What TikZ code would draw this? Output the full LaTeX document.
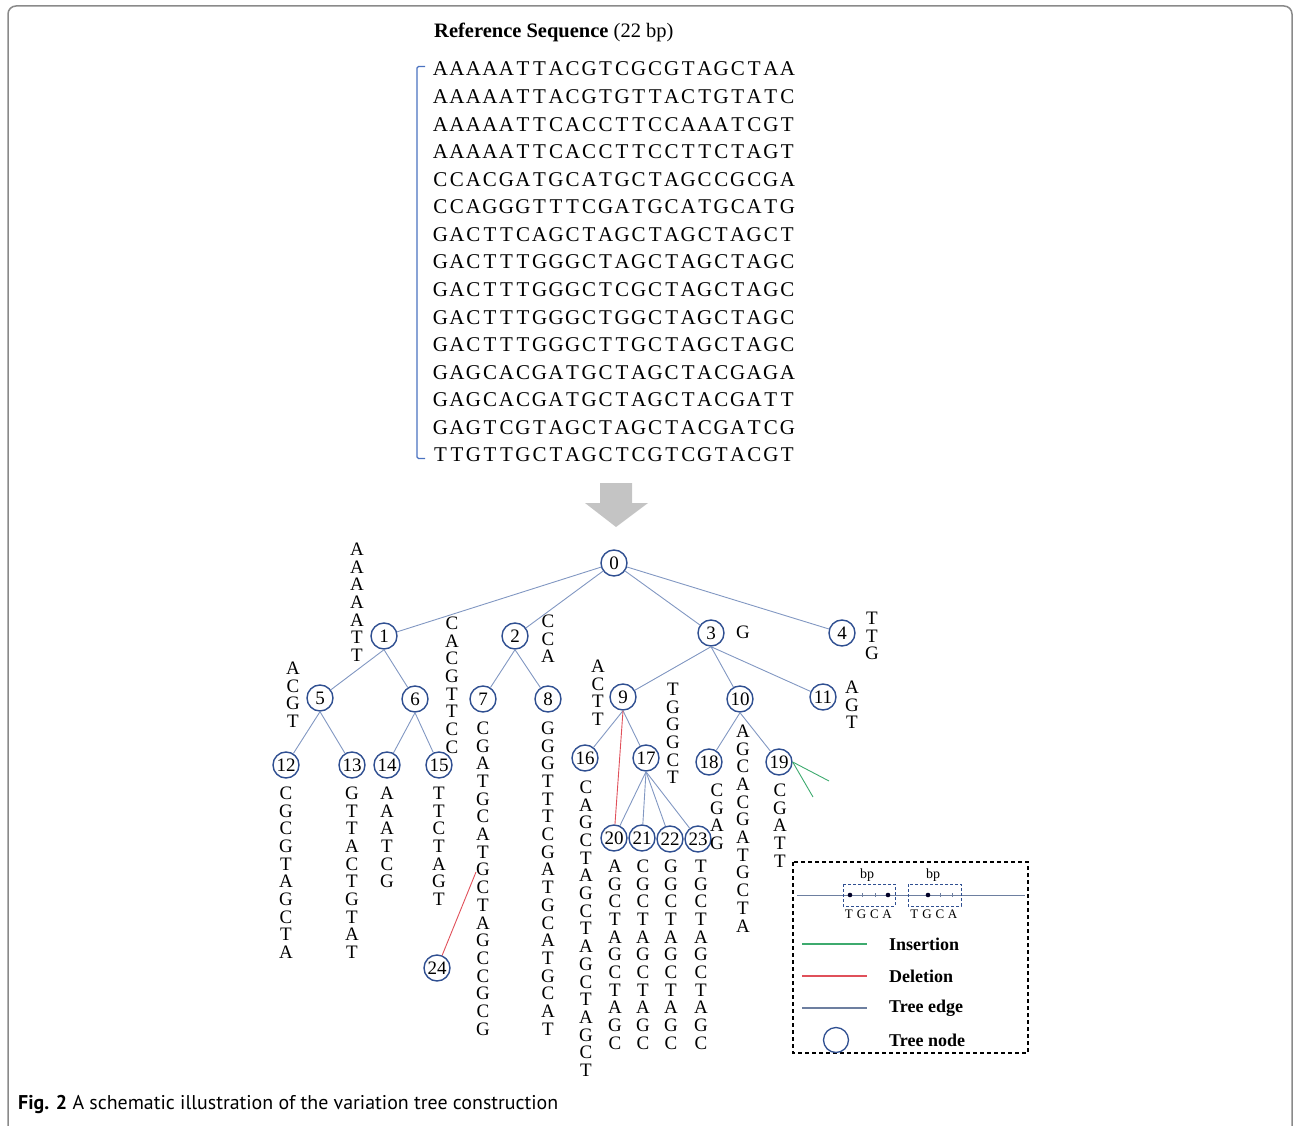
\documentclass[tikz,border=0pt]{standalone}
\usepackage{fontspec}
\setmainfont{Liberation Serif}
\newfontfamily\capfont{PT Sans}
\usetikzlibrary{arrows.meta}

\definecolor{nodeblue}{HTML}{2F4F91}
\definecolor{edgeblue}{HTML}{8197C2}
\definecolor{delred}{HTML}{E0505A}
\definecolor{insgreen}{HTML}{3DAA6E}
\definecolor{legedge}{HTML}{6D7FA0}
\definecolor{bracketblue}{HTML}{4A72C0}
\definecolor{arrowgrey}{HTML}{C4C4C4}
\definecolor{framegrey}{HTML}{8A8A8A}

\makeatletter
% letters of a string set side by side at a fixed pitch
\newcommand\spreadseq[2]{\def\seq@pitch{#1}\expandafter\seq@row#2\relax}
\def\seq@row#1{\ifx#1\relax\else\makebox[\seq@pitch]{#1}\expandafter\seq@row\fi}
% letters of a string stacked in a column, first baseline on top
\newcommand\colseq[1]{\vtop{\baselineskip=17.7pt\lineskiplimit=-30pt\expandafter\seq@col#1\relax}}
\def\seq@col#1{\ifx#1\relax\else\hbox to 14pt{\hss#1\hss}\expandafter\seq@col\fi}
\makeatother

\tikzset{
  tn/.style={circle, draw=nodeblue, line width=1.4pt, minimum size=26pt, inner sep=0pt,
    font=\fontsize{19}{19}\selectfont},
  te/.style={draw=edgeblue, line width=0.9pt},
  del/.style={draw=delred, line width=0.9pt},
  ins/.style={draw=insgreen, line width=0.9pt},
  lab/.style={inner sep=0pt, anchor=base, font=\fontsize{19}{19}\selectfont},
  seqline/.style={inner sep=0pt, anchor=base west, font=\fontsize{21}{21}\selectfont},
  legtext/.style={inner sep=0pt, anchor=west, font=\fontsize{18}{18}\selectfont\bfseries},
}

\begin{document}
\begin{tikzpicture}[x=1pt,y=-1pt]
\useasboundingbox (0,0) rectangle (1294,1126);

% outer frame, open at the bottom
\draw[framegrey, line width=1.5pt, rounded corners=8pt] (8,1126) -- (8,6) -- (1292,6) -- (1292,1126);

% reference sequence block
\node[inner sep=0pt, anchor=base west, font=\fontsize{20.5}{20.5}\selectfont] (title) at (434,38)
  {\textbf{Reference Sequence} (22 bp)};
\draw[bracketblue, line width=1.4pt, rounded corners=1.5pt]
  (425,66.5) -- (417,66.5) -- (417,458.5) -- (425,458.5);
\foreach \s [count=\i from 0] in {
  AAAAATTACGTCGCGTAGCTAA, AAAAATTACGTGTTACTGTATC, AAAAATTCACCTTCCAAATCGT,
  AAAAATTCACCTTCCTTCTAGT, CCACGATGCATGCTAGCCGCGA, CCAGGGTTTCGATGCATGCATG,
  GACTTCAGCTAGCTAGCTAGCT, GACTTTGGGCTAGCTAGCTAGC, GACTTTGGGCTCGCTAGCTAGC,
  GACTTTGGGCTGGCTAGCTAGC, GACTTTGGGCTTGCTAGCTAGC, GAGCACGATGCTAGCTACGAGA,
  GAGCACGATGCTAGCTACGATT, GAGTCGTAGCTAGCTACGATCG, TTGTTGCTAGCTCGTCGTACGT}
  \node[seqline] (row\i) at (432,76+27.57*\i) {\spreadseq{16.52pt}{\s}};

% down arrow
\fill[arrowgrey] (600,483) -- (632,483) -- (632,503) -- (648,503) -- (616,527)
  -- (585,503) -- (600,503) -- cycle;

% tree nodes
\node[tn] (n0)  at (614,563) {0};
\node[tn] (n1)  at (384,636) {1};
\node[tn] (n2)  at (515,636) {2};
\node[tn] (n3)  at (711,633) {3};
\node[tn] (n4)  at (842,633) {4};
\node[tn] (n5)  at (320,698) {5};
\node[tn] (n6)  at (415,699) {6};
\node[tn] (n7)  at (483,699) {7};
\node[tn] (n8)  at (548,699) {8};
\node[tn] (n9)  at (623,697) {9};
\node[tn] (n10) at (740,699) {10};
\node[tn] (n11) at (823,697) {11};
\node[tn] (n12) at (286,765) {12};
\node[tn] (n13) at (352,765) {13};
\node[tn] (n14) at (387,765) {14};
\node[tn] (n15) at (439,765) {15};
\node[tn] (n16) at (585,758) {16};
\node[tn] (n17) at (646,758) {17};
\node[tn] (n18) at (709,762) {18};
\node[tn] (n19) at (779,762) {19};
\node[tn] (n20) at (614,838) {20};
\node[tn] (n21) at (642,838) {21};
\node[tn] (n22) at (670,839) {22};
\node[tn] (n23) at (698,839) {23};
\node[tn] (n24) at (437,968) {24};

% tree edges
\foreach \c in {1,2,3,4} \draw[te] (n0) -- (n\c);
\foreach \p/\c in {1/5,1/6,2/7,2/8,3/9,3/10,3/11,5/12,5/13,6/14,6/15,
                   9/16,9/17,10/18,10/19,17/20,17/21,17/22,17/23}
  \draw[te] (n\p.south) -- (n\c);

% deletions and insertions
\draw[del] (n9.south) -- (n20);
\coordinate (cut24) at (476,872);
\draw[del] (n24) -- (cut24);
\coordinate (insA) at (829,781);
\coordinate (insB) at (813,797);
\draw[ins] (n19.east) -- (insA);
\draw[ins] (n19.east) -- (insB);

% edge labels (first letter centre given, baseline 6pt lower)
\foreach \n/\x/\y/\s in {
  1/357/549/AAAAATT, 5/293/668/ACGT, 6/452/623/CACGTTCC, 2/548/621/CCA,
  7/483/728/CGATGCATGCTAGCCGCG, 8/548/728/GGGTTTCGATGCATGCAT,
  3/743/632/G, 4/872/618/TTG, 9/598/666/ACTT, 17/673/689/TGGGCT,
  10/743/731/AGCACGATGCTA, 11/852/687/AGT,
  12/286/793/CGCGTAGCTA, 13/352/793/GTTACTGTAT, 14/387/793/AAATCG,
  15/439/793/TTCTAGT, 16/586/787/CAGCTAGCTAGCTAGCT, 18/717/790/CGAG,
  19/780/790/CGATT, 20/615/866/AGCTAGCTAGC, 21/643/866/CGCTAGCTAGC,
  22/671/866/GGCTAGCTAGC, 23/701/866/TGCTAGCTAGC}
  \node[lab] (l\n) at (\x,\y+6.3) {\colseq{\s}};

% legend
\draw[dashed, dash pattern=on 4pt off 3pt, line width=1.1pt] (793,862) rectangle (1028,1053);
\draw[legedge, line width=0.9pt] (797,895) -- (1025,895);
\draw[nodeblue, dashed, dash pattern=on 3pt off 2pt, line width=0.9pt] (843,884) rectangle (895,906);
\draw[nodeblue, dashed, dash pattern=on 3pt off 2pt, line width=0.9pt] (908,884) rectangle (961,906);
\foreach \x in {862,875,940,952} \draw[legedge, line width=0.5pt] (\x,893) -- (\x,897);
\foreach \x in {850,888,928} \fill[black!85!blue] (\x,895) circle (2.3);
\node[inner sep=0pt, font=\fontsize{14}{14}\selectfont] (bp1) at (867,875) {bp};
\node[inner sep=0pt, font=\fontsize{14}{14}\selectfont] (bp2) at (933,875) {bp};
\node[inner sep=0pt, anchor=base, font=\fontsize{13}{13}\selectfont] (tg1) at (868,918) {\spreadseq{12.7pt}{TGCA}};
\node[inner sep=0pt, anchor=base, font=\fontsize{13}{13}\selectfont] (tg2) at (933.5,918) {\spreadseq{12.7pt}{TGCA}};

\draw[insgreen, line width=1.2pt] (802,944) -- (867,944);
\draw[delred, line width=1.2pt] (802,976) -- (867,976);
\draw[legedge, line width=1.2pt] (802,1008) -- (867,1008);
\draw[nodeblue, line width=1.3pt] (836,1040) circle (12.5);
\node[legtext] (li) at (889,944) {Insertion};
\node[legtext] (ld) at (889,976) {Deletion};
\node[legtext] (le) at (889,1008) {Tree edge};
\node[legtext] (ln) at (889,1040) {Tree node};

% caption
\node[inner sep=0pt, anchor=base west, font=\capfont\fontsize{19.9}{19.9}\selectfont] (cap) at (18,1109)
  {\textbf{Fig. 2} A schematic illustration of the variation tree construction};
\end{tikzpicture}
\end{document}
